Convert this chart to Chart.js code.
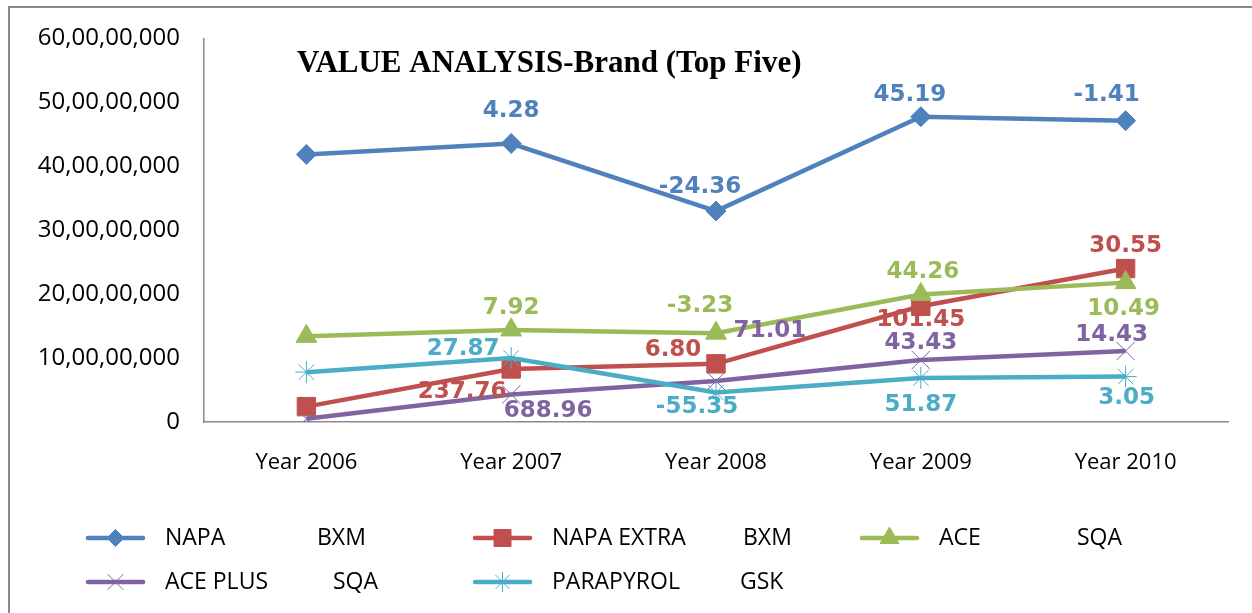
<!DOCTYPE html>
<html>
<head>
<meta charset="utf-8">
<script src="https://cdn.jsdelivr.net/npm/chart.js@4.4.0/dist/chart.umd.min.js"></script>
<style>
  html, body { margin: 0; padding: 0; background: #fff; overflow: hidden; }
  #wrap { position: relative; width: 1252px; height: 613px; }
</style>
</head>
<body>
<div id="wrap"><canvas id="chart" width="1252" height="613"></canvas></div>
<script>
// categories
const years = ['Year 2006', 'Year 2007', 'Year 2008', 'Year 2009', 'Year 2010'];

// sales value per brand
const napa      = [418500000, 435600000, 330000000, 477500000, 471300000];
const napaExtra = [24000000, 83000000, 91000000, 181000000, 240000000];
const ace       = [134000000, 144000000, 139000000, 199500000, 218000000];
const acePlus   = [5000000, 43000000, 64000000, 97000000, 111000000];
const parapyrol = [78000000, 100000000, 46000000, 69000000, 71000000];

// growth % shown as data labels
const napaGrowth      = [null, 4.28, -24.36, 45.19, -1.41];
const napaExtraGrowth = [null, 237.76, 6.80, 101.45, 30.55];
const aceGrowth       = [null, 7.92, -3.23, 44.26, 10.49];
const acePlusGrowth   = [null, 688.96, 71.01, 43.43, 14.43];
const parapyrolGrowth = [null, 27.87, -55.35, 51.87, 3.05];

// legend text
const brands    = ['NAPA', 'NAPA EXTRA', 'ACE', 'ACE PLUS', 'PARAPYROL'];
const companies = ['BXM', 'BXM', 'SQA', 'SQA', 'GSK'];

const chartTitle = 'VALUE ANALYSIS-Brand (Top Five)';

// y axis
const yMax = 600000000;
const yStep = 100000000;

const colors = ['#4F81BD', '#C0504D', '#9BBB59', '#8064A2', '#4BACC6'];

// where each growth label sits relative to its point (dx, dy)
const labelOffsets = [
  [null, [0, -32], [-16, -24], [-11, -22], [-19, -26]],
  [null, [-49, 23], [-43, -14], [0, 14], [0, -23]],
  [null, [0, -22], [-16, -27], [2, -22], [-2, 26]],
  [null, [37, 17], [54, -50], [0, -17], [-14, -16]],
  [null, [-48, -9], [-19, 14], [0, 27], [1, 21]]
];

// legend slots: line start x, row y, company x
const legendSlots = [
  { x: 88, y: 538, cx: 317 },
  { x: 475, y: 538, cx: 743 },
  { x: 862, y: 538, cx: 1077 },
  { x: 88, y: 582, cx: 333 },
  { x: 475, y: 582, cx: 740 }
];

function indianFormat(n) {
  const s = String(Math.round(n));
  if (s.length <= 3) return s;
  const last3 = s.slice(-3);
  let rest = s.slice(0, -3);
  const parts = [];
  while (rest.length > 2) {
    parts.unshift(rest.slice(-2));
    rest = rest.slice(0, -2);
  }
  if (rest) parts.unshift(rest);
  return parts.join(',') + ',' + last3;
}

const values = [napa, napaExtra, ace, acePlus, parapyrol];
const growths = [napaGrowth, napaExtraGrowth, aceGrowth, acePlusGrowth, parapyrolGrowth];
const pointStyles = ['rectRot', 'rect', 'triangle', 'crossRot', 'star'];
const pointRadii = [10, 13, 12, 13, 11];
const legendRadii = [8.5, 12, 11, 11, 10];

const datasets = values.map((v, i) => ({
  label: brands[i] + ' ' + companies[i],
  data: v,
  borderColor: colors[i],
  backgroundColor: colors[i],
  borderWidth: 4.5,
  tension: 0,
  pointStyle: pointStyles[i],
  pointRadius: pointRadii[i],
  pointBackgroundColor: colors[i],
  pointBorderColor: colors[i],
  pointBorderWidth: 1,
  order: values.length - i
}));

// border, title, growth labels and legend
const decorPlugin = {
  id: 'decor',
  beforeDraw(chart) {
    const ctx = chart.ctx;
    ctx.save();
    ctx.strokeStyle = '#8a8a8a';
    ctx.lineWidth = 2;
    ctx.beginPath();
    ctx.moveTo(9, 700);
    ctx.lineTo(9, 7);
    ctx.lineTo(1300, 7);
    ctx.stroke();
    ctx.restore();
  },
  afterDatasetsDraw(chart) {
    const ctx = chart.ctx;
    ctx.save();
    ctx.font = 'bold 23px "DejaVu Sans"';
    ctx.textAlign = 'center';
    ctx.textBaseline = 'middle';
    chart.data.datasets.forEach((ds, i) => {
      const meta = chart.getDatasetMeta(i);
      meta.data.forEach((pt, j) => {
        const g = growths[i][j];
        if (g === null) return;
        const off = labelOffsets[i][j];
        ctx.fillStyle = colors[i];
        ctx.fillText(g.toFixed(2), pt.x + off[0], pt.y + off[1]);
      });
    });
    ctx.restore();
  },
  afterDraw(chart) {
    const ctx = chart.ctx;
    ctx.save();
    // title
    ctx.fillStyle = '#000';
    ctx.font = 'bold 31px "Liberation Serif"';
    ctx.textAlign = 'left';
    ctx.textBaseline = 'alphabetic';
    ctx.fillText(chartTitle, 297, 72);

    // legend
    legendSlots.forEach((slot, i) => {
      ctx.strokeStyle = colors[i];
      ctx.lineWidth = 4.5;
      ctx.lineCap = 'round';
      ctx.beginPath();
      ctx.moveTo(slot.x, slot.y);
      ctx.lineTo(slot.x + 55, slot.y);
      ctx.stroke();
      ctx.lineCap = 'butt';
      ctx.fillStyle = colors[i];
      ctx.lineWidth = 1;
      Chart.helpers.drawPoint(ctx, { pointStyle: pointStyles[i], radius: legendRadii[i], rotation: 0, borderWidth: 1 }, slot.x + 27.5, slot.y);
      ctx.fillStyle = '#000';
      ctx.font = '23px "Open Sans"';
      ctx.textBaseline = 'middle';
      ctx.fillText(brands[i], slot.x + 77, slot.y);
      ctx.fillText(companies[i], slot.cx, slot.y);
    });
    ctx.restore();
  }
};

new Chart(document.getElementById('chart'), {
  type: 'line',
  data: { labels: years, datasets: datasets },
  options: {
    responsive: false,
    animation: false,
    layout: { padding: { top: 36, right: 24, left: 0, bottom: 0 } },
    plugins: {
      legend: { display: false },
      title: { display: false },
      tooltip: { enabled: false }
    },
    scales: {
      x: {
        offset: true,
        grid: { display: false, drawTicks: false, offset: true },
        border: { display: true, color: '#8a8a8a', width: 1.5 },
        ticks: { color: '#000', padding: 28, font: { family: 'Open Sans', size: 22 } },
        afterFit(scale) { scale.height = 191; }
      },
      y: {
        min: 0,
        max: yMax,
        grid: { display: false, drawTicks: false },
        border: { display: true, color: '#8a8a8a', width: 1.5 },
        ticks: {
          stepSize: yStep,
          color: '#000',
          padding: 24,
          font: { family: 'Open Sans', size: 24 },
          callback: (v) => indianFormat(v)
        },
        afterFit(scale) { scale.width = 204; }
      }
    }
  },
  plugins: [decorPlugin]
});
</script>
</body>
</html>
